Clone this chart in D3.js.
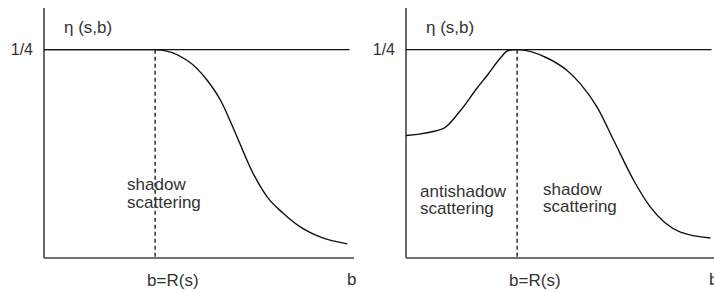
<!DOCTYPE html>
<html>
<head>
<meta charset="utf-8">
<script src="https://cdn.jsdelivr.net/npm/d3@7"></script>
<style>
  body { margin: 0; background: #fff; }
  svg text { font-family: "Liberation Sans", Arial, sans-serif; fill: #333; }
</style>
</head>
<body>
<svg id="chart" width="714" height="292"></svg>
<script>
// b in units of R(s), eta(s,b) values
let leftB   = [0, 1.0, 1.29, 1.47, 1.59, 1.70, 1.88, 2.01, 2.15, 2.31, 2.49, 2.73];
let leftEta = [0.25, 0.25, 0.237, 0.213, 0.189, 0.157, 0.102, 0.073, 0.054, 0.037, 0.025, 0.017];

let rightB   = [0, 0.33, 0.49, 0.64, 0.73, 0.85, 0.92, 1.0, 1.27, 1.45, 1.57, 1.72, 1.87, 2.05, 2.20, 2.47, 2.74];
let rightEta = [0.147, 0.155, 0.177, 0.204, 0.219, 0.240, 0.249, 0.25, 0.240, 0.225, 0.209, 0.181, 0.141, 0.093, 0.061, 0.031, 0.024];

let quarter = 0.25;
let edgeB = 1.0; // b = R(s)

let panels = [
  { x0: 44,  b: leftB,  eta: leftEta,
    labels: [{ t: "shadow", dx: -28, y: 190 }, { t: "scattering", dx: -28, y: 208 }] },
  { x0: 406, b: rightB, eta: rightEta,
    labels: [{ t: "antishadow", dx: -97, y: 197 }, { t: "scattering", dx: -97, y: 214 },
             { t: "shadow", dx: 26, y: 195 }, { t: "scattering", dx: 26, y: 212 }] }
];

let svg = d3.select("#chart");

panels.forEach(function(p){
  let x = d3.scaleLinear().domain([0, 2.79]).range([p.x0, p.x0 + 310]);
  let y = d3.scaleLinear().domain([0, 0.3]).range([258, 8]);
  let g = svg.append("g");

  // axes
  g.append("line").attr("x1", x(0)).attr("x2", x(0)).attr("y1", y(0.3)).attr("y2", y(0))
    .attr("stroke", "#444").attr("stroke-width", 1.6);
  g.append("line").attr("x1", x(0)).attr("x2", x(2.79)).attr("y1", y(0)).attr("y2", y(0))
    .attr("stroke", "#444").attr("stroke-width", 1.6);

  // 1/4 level
  g.append("line").attr("x1", x(0)).attr("x2", x(2.75)).attr("y1", y(quarter)).attr("y2", y(quarter))
    .attr("stroke", "#111").attr("stroke-width", 1.2);

  // b = R(s)
  g.append("line").attr("x1", x(edgeB)).attr("x2", x(edgeB)).attr("y1", y(quarter)).attr("y2", y(0))
    .attr("stroke", "#111").attr("stroke-width", 1.3).attr("stroke-dasharray", "4,3");

  let pts = d3.zip(p.b, p.eta);
  let line = d3.line().x(d => x(d[0])).y(d => y(d[1])).curve(d3.curveMonotoneX);
  g.append("path").attr("d", line(pts)).attr("fill", "none")
    .attr("stroke", "#111").attr("stroke-width", 1.4);

  g.append("text").attr("x", x(0) - 11).attr("y", 55).attr("text-anchor", "end")
    .style("font-size", "16px").text("1/4");
  g.append("text").attr("x", x(0) + 20).attr("y", 33)
    .style("font-size", "17px").text("η (s,b)");
  g.append("text").attr("x", x(edgeB) - 8).attr("y", 286)
    .style("font-size", "17px").text("b=R(s)");
  g.append("text").attr("x", x(0) + 303).attr("y", 285)
    .style("font-size", "17px").text("b");

  p.labels.forEach(function(l){
    g.append("text").attr("x", x(edgeB) + l.dx).attr("y", l.y)
      .style("font-size", "17px").text(l.t);
  });
});
</script>
</body>
</html>
